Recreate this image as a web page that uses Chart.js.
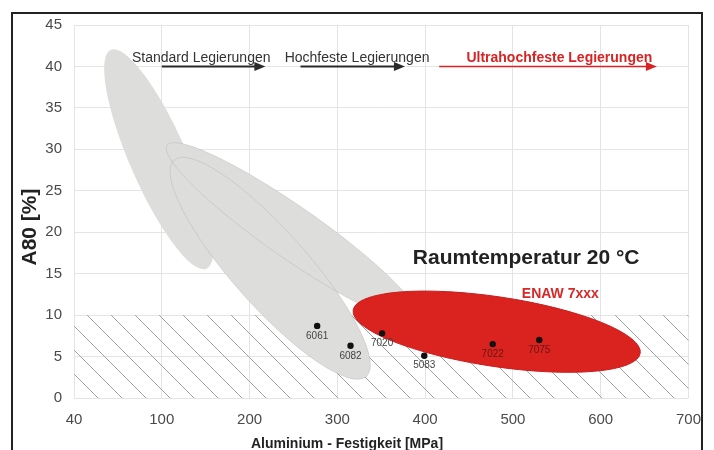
<!DOCTYPE html>
<html lang="de">
<head>
<meta charset="UTF-8">
<title>A80 über Festigkeit</title>
<script src="https://cdn.jsdelivr.net/npm/chart.js"></script>
<style>
  body { margin: 0; background: #fff; }
</style>
</head>
<body>
<canvas id="chart" width="714" height="450"></canvas>
<script>
// Achsen (erster Tick ist mit "40" beschriftet)
const xTicks = [0, 100, 200, 300, 400, 500, 600, 700];
const xTickLabels = ['40', '100', '200', '300', '400', '500', '600', '700'];

// Legierungen
const alloys = ['6061', '6082', '7020', '5083', '7022', '7075'];
const strength = [277, 315, 351, 399, 477, 530];
const elongation = [8.7, 6.3, 7.8, 5.1, 6.5, 7.0];

// Bereiche als Ellipsen: Start- und Endpunkt der Hauptachse, Verhältnis Nebenachse/Hauptachse
const zoneNames = ['Standard', 'Hochfest aussen', 'Hochfest innen', 'ENAW 7xxx'];
const zoneStartX = [42, 106, 114, 318];
const zoneStartY = [42.0, 30.5, 28.7, 10.6];
const zoneEndX = [151, 392, 333, 645];
const zoneEndY = [15.6, 9.4, 2.6, 5.4];
const zoneRatio = [0.24, 0.17, 0.26, 0.24];

// Grenze A80 < 10 % (schraffiert)
const limitA80 = 10;

// Pfeile oben
const arrowLabels = ['Standard Legierungen', 'Hochfeste Legierungen', 'Ultrahochfeste Legierungen'];
const arrowFrom = [100, 258, 416];
const arrowTo = [218, 377, 664];
const arrowY = 40;
const arrowLabelX = [66, 240, 447];

const FONT = '"Liberation Sans", Arial, sans-serif';
const ctx = document.getElementById('chart').getContext('2d');

function zonePath(c, chart, i) {
    const xs = chart.scales.x, ys = chart.scales.y;
    const x1 = xs.getPixelForValue(zoneStartX[i]), y1 = ys.getPixelForValue(zoneStartY[i]);
    const x2 = xs.getPixelForValue(zoneEndX[i]), y2 = ys.getPixelForValue(zoneEndY[i]);
    const a = Math.hypot(x2 - x1, y2 - y1) / 2;
    c.beginPath();
    c.ellipse((x1 + x2) / 2, (y1 + y2) / 2, a, a * zoneRatio[i], Math.atan2(y2 - y1, x2 - x1), 0, Math.PI * 2);
}

const backgroundPlugin = {
    id: 'zones',
    beforeDatasetsDraw(chart) {
        const c = chart.ctx, ys = chart.scales.y;
        const area = chart.chartArea;
        // Schraffur
        const top = ys.getPixelForValue(limitA80), bottom = ys.getPixelForValue(0);
        c.save();
        c.beginPath();
        c.rect(area.left, top, area.right - area.left, bottom - top);
        c.clip();
        c.strokeStyle = '#a2a2a2';
        c.lineWidth = 1;
        const h = bottom - top;
        c.beginPath();
        for (let x = area.left - h - 24 * 4; x < area.right + 24; x += 24) {
            c.moveTo(x, top);
            c.lineTo(x + h, bottom);
        }
        c.stroke();
        c.restore();

        // graue Bereiche
        c.save();
        c.fillStyle = 'rgb(221,221,219)';
        [0, 1, 2].forEach(i => { zonePath(c, chart, i); c.fill(); });
        c.strokeStyle = 'rgba(175,175,175,0.4)';
        c.lineWidth = 1;
        [1, 2].forEach(i => { zonePath(c, chart, i); c.stroke(); });
        // roter Bereich
        zonePath(c, chart, 3);
        c.fillStyle = 'rgb(218,34,30)';
        c.fill();
        c.strokeStyle = 'rgb(200,30,30)';
        c.stroke();
        c.restore();
    },
    afterDatasetsDraw(chart) {
        const c = chart.ctx, xs = chart.scales.x, ys = chart.scales.y;
        c.save();
        // Punktbeschriftung
        c.font = '10px ' + FONT;
        c.textAlign = 'center';
        c.textBaseline = 'top';
        alloys.forEach((name, i) => {
            const px = xs.getPixelForValue(strength[i]), py = ys.getPixelForValue(elongation[i]);
            c.fillStyle = px > xs.getPixelForValue(430) ? 'rgba(60,20,20,0.75)' : '#444';
            c.fillText(name, px, py + 5);
        });

        // Pfeile
        const ay = ys.getPixelForValue(arrowY);
        arrowLabels.forEach((label, i) => {
            const red = i === 2;
            const col = red ? 'rgb(215,35,35)' : '#2a2a2a';
            const x1 = xs.getPixelForValue(arrowFrom[i]), x2 = xs.getPixelForValue(arrowTo[i]);
            c.strokeStyle = col;
            c.fillStyle = col;
            c.lineWidth = red ? 1.5 : 2;
            c.beginPath();
            c.moveTo(x1, ay);
            c.lineTo(x2 - 8, ay);
            c.stroke();
            c.beginPath();
            c.moveTo(x2, ay);
            c.lineTo(x2 - 11, ay - 4.5);
            c.lineTo(x2 - 11, ay + 4.5);
            c.closePath();
            c.fill();
            c.font = (red ? 'bold 14px ' : '14px ') + FONT;
            c.fillStyle = red ? 'rgb(215,35,35)' : '#333';
            c.textAlign = 'left';
            c.textBaseline = 'alphabetic';
            c.fillText(label, xs.getPixelForValue(arrowLabelX[i]), ay - 4);
        });

        // Beschriftungen im Diagramm
        c.textAlign = 'left';
        c.textBaseline = 'middle';
        c.fillStyle = '#222';
        c.font = 'bold 21px ' + FONT;
        c.fillText('Raumtemperatur 20 °C', xs.getPixelForValue(386), ys.getPixelForValue(16.9));
        c.textAlign = 'center';
        c.fillStyle = 'rgb(215,40,40)';
        c.font = 'bold 14px ' + FONT;
        c.fillText('ENAW 7xxx', xs.getPixelForValue(554), ys.getPixelForValue(12.5));
        c.restore();
    },
    afterDraw(chart) {
        const c = chart.ctx;
        c.save();
        // Achsentitel
        c.fillStyle = '#222';
        c.textAlign = 'center';
        c.textBaseline = 'middle';
        c.font = 'bold 14px ' + FONT;
        c.fillText('Aluminium - Festigkeit [MPa]', 347, 444);
        c.translate(30, 227);
        c.rotate(-Math.PI / 2);
        c.font = 'bold 21px ' + FONT;
        c.fillText('A80 [%]', 0, 0);
        c.restore();

        // Rahmen
        c.save();
        c.fillStyle = '#fff';
        c.fillRect(702, 0, 12, 450);
        c.strokeStyle = '#222';
        c.lineWidth = 2;
        c.beginPath();
        c.moveTo(12, 460);
        c.lineTo(12, 13);
        c.lineTo(702, 13);
        c.lineTo(702, 460);
        c.stroke();
        c.restore();
    }
};

new Chart(ctx, {
    type: 'scatter',
    data: {
        datasets: [{
            label: 'Legierungen',
            data: strength.map((x, i) => ({ x: x, y: elongation[i] })),
            backgroundColor: '#111',
            borderWidth: 0,
            pointRadius: 3.2
        }]
    },
    options: {
        responsive: false,
        animation: false,
        layout: { padding: { top: 25, right: 22, left: 0, bottom: 0 } },
        plugins: { legend: { display: false }, tooltip: { enabled: false } },
        scales: {
            x: {
                type: 'linear',
                min: 0,
                max: 700,
                afterBuildTicks: s => { s.ticks = xTicks.map(v => ({ value: v })); },
                afterFit: s => { s.height = 52; },
                ticks: {
                    callback: v => xTickLabels[xTicks.indexOf(v)],
                    font: { size: 15, family: FONT },
                    color: '#4a4a4a',
                    padding: 13,
                    maxRotation: 0
                },
                grid: { color: '#e4e4e4', drawTicks: false },
                border: { display: false }
            },
            y: {
                min: 0,
                max: 45,
                afterFit: s => { s.width = 74; },
                ticks: {
                    stepSize: 5,
                    font: { size: 15, family: FONT },
                    color: '#4a4a4a',
                    padding: 12
                },
                grid: { color: '#e4e4e4', drawTicks: false },
                border: { display: false }
            }
        }
    },
    plugins: [backgroundPlugin]
});
</script>
</body>
</html>
